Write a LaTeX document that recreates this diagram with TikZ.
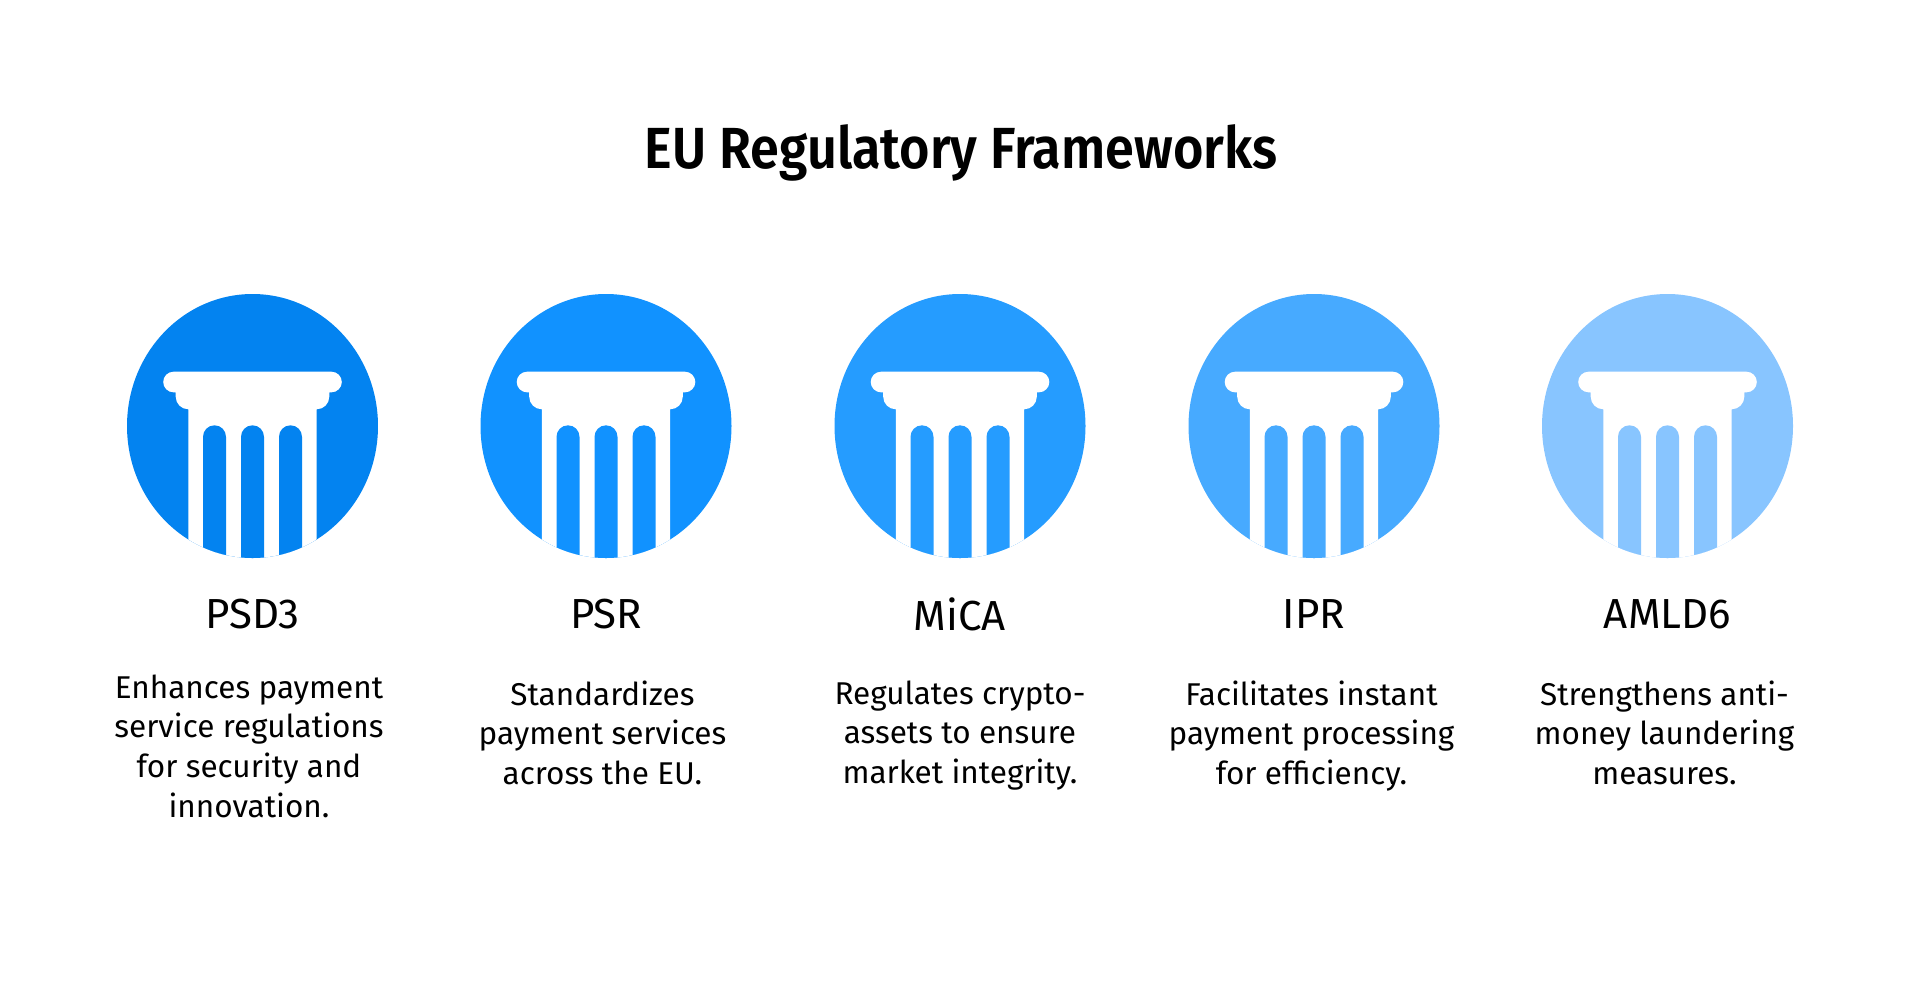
\documentclass[tikz,border=0pt]{standalone}
\usepackage{fontspec}
\setmainfont{Fira Sans}
\newfontfamily\bodyfont{Fira Sans}
\newfontfamily\titlefont[FakeStretch=0.90]{Fira Sans SemiBold}
\usetikzlibrary{positioning}
\definecolor{blueA}{HTML}{0383F0}
\definecolor{blueB}{HTML}{1192FF}
\definecolor{blueC}{HTML}{259CFF}
\definecolor{blueD}{HTML}{47AAFF}
\definecolor{blueE}{HTML}{88C5FF}
\tikzset{
headtxt/.style={font=\titlefont\fontsize{58}{60}\selectfont},
nametxt/.style={font=\bodyfont\fontsize{42}{46}\selectfont},
desctxt/.style={font=\bodyfont\fontsize{31.5}{39.7}\selectfont,align=center,anchor=north},
}
% one pillar, centred on x=0, drawn in page pixels (y runs down, so arc angles do too)
\newcommand{\pillar}[1]{
\begin{scope}
\clip (0,426) ellipse [x radius=125.5,y radius=132];
\fill[#1] (-126,290) rectangle (126,560);
\fill[white] (-64.2,409.3) arc [start angle=90,end angle=180,radius=12.6]
  -- (-76.8,392.3) -- (-79,392.3) arc [start angle=90,end angle=270,radius=10.3]
  -- (79,371.7) arc [start angle=270,end angle=450,radius=10.3]
  -- (76.8,392.3) -- (76.8,396.7) arc [start angle=0,end angle=90,radius=12.6]
  -- (64.2,565) -- (-64.2,565) -- cycle;
\foreach \xf in {-38,0,38}
  \fill[#1,shift={(\xf,0)}] (-11.5,565) -- (-11.5,436.8)
    arc [start angle=180,end angle=360,radius=11.5] -- (11.5,565) -- cycle;
\end{scope}
}
\begin{document}
\begin{tikzpicture}[x=1pt,y=-1pt]
\useasboundingbox (0,0) rectangle (1920,986);
\node[headtxt] (head) at (961,153) {EU Regulatory Frameworks};
\foreach \cx/\col/\lab/\dx/\dy/\txt in {
 252.5/blueA/PSD3/-3.5/671/{Enhances payment\\service regulations\\for security and\\innovation.},
 606/blueB/PSR/-3.5/677/{Standardizes\\payment services\\across the EU.},
 960/blueC/MiCA/0/677/{Regulates crypto-\\assets to ensure\\market integrity.},
 1314/blueD/IPR/-2.5/677/{Facilitates instant\\payment processing\\for efficiency.},
 1667.5/blueE/AMLD6/-3/677/{Strengthens anti-\\money laundering\\measures.}}{
  \begin{scope}[shift={(\cx,0)}]
  \pillar{\col}
  \node[nametxt] (lab\lab) at (0,614) {\lab};
  \node[desctxt] (txt\lab) at (\dx,\dy) {\txt};
  \end{scope}
}
\end{tikzpicture}
\end{document}
